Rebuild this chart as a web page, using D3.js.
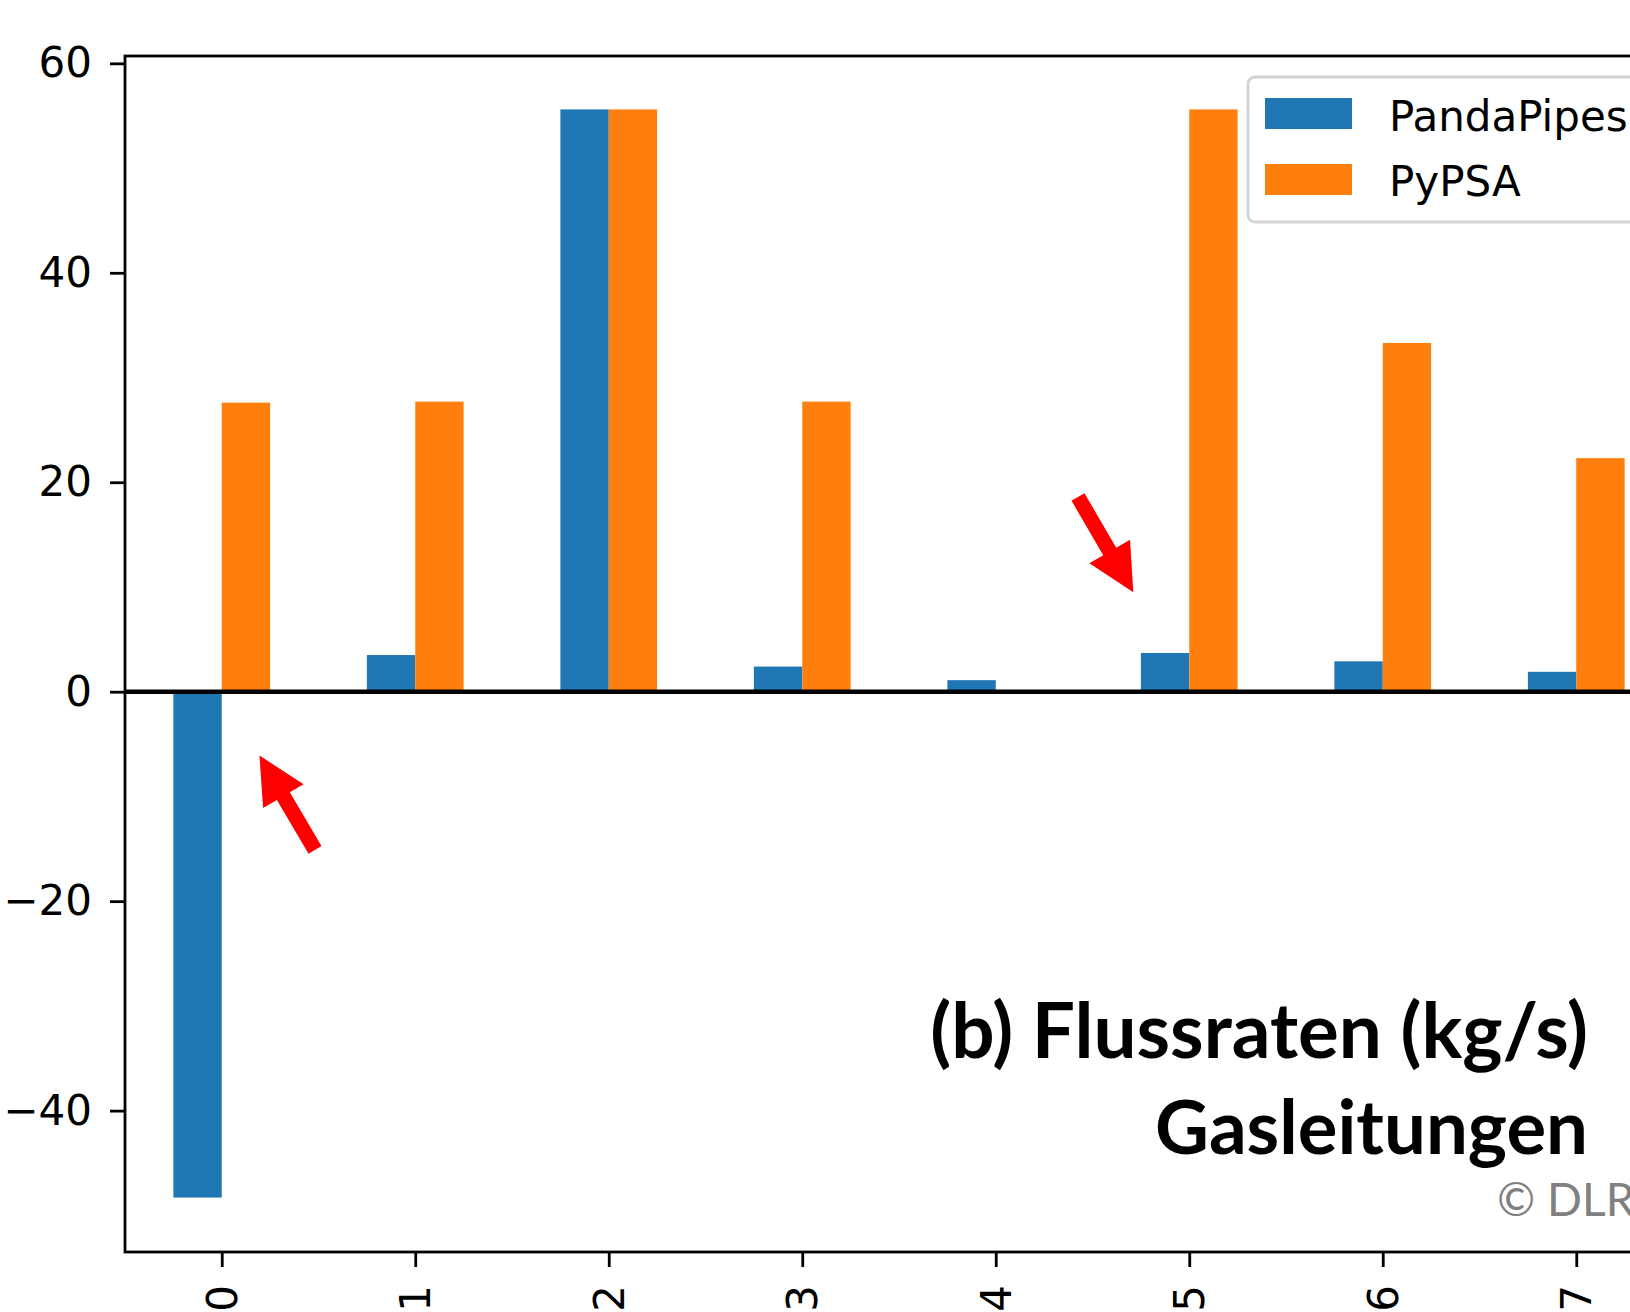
<!DOCTYPE html>
<html>
<head>
<meta charset="utf-8">
<script src="https://cdnjs.cloudflare.com/ajax/libs/d3/7.8.5/d3.min.js"></script>
<style>
  html, body { margin: 0; padding: 0; background: white; overflow: hidden; }
  .container { width: 1630px; height: 1312px; }
</style>
</head>
<body>
<div class="container"></div>
<script>
// categories and the two series (kg/s)
var categories = ["0", "1", "2", "3", "4", "5", "6", "7"];
var pandapipes = [-48.3, 3.5, 55.6, 2.4, 1.1, 3.7, 2.9, 1.9];
var pypsa = [27.6, 27.7, 55.6, 27.7, 0, 55.6, 33.3, 22.3];
var seriesNames = ["PandaPipes", "PyPSA"];
var seriesColors = ["#1f77b4", "#ff7f0e"];
var yTicks = [-40, -20, 0, 20, 40, 60];

// red arrows, in data coordinates (category position, value)
var arrowTails = [[4.425, 18.6], [0.482, -15.1]];
var arrowTips = [[4.711, 9.5], [0.195, -6.1]];

var titleLines = ["(b) Flussraten (kg/s)", "Gasleitungen"];

var W = 1630, H = 1312;
var axLeft = 125, axTop = 56, axBottom = 1252;
var unit = 193.5;   // px per category

function makeStage(w, h) {
    var stage = d3.select(".container")
      .append("svg")
      .attr("width", w)
      .attr("height", h)
      .style("display", "block")
      .style("background-color", "white");
    return stage;
}

var stage = makeStage(W, H);

var x = d3.scaleLinear()
    .domain([-0.5, categories.length - 0.5])
    .range([axLeft, axLeft + unit * categories.length]);

var y = d3.scaleLinear()
    .domain([-53.5, 60.7])
    .range([axBottom, axTop]);

var barW = x(0.25) - x(0);

//bars, blue left of tick, orange right of tick
function drawBars(values, offset, color) {
    stage.append("g").selectAll("rect")
      .data(values)
      .join("rect")
      .attr("x", function(d, i) { return x(i + offset); })
      .attr("y", function(d) { return y(Math.max(0, d)); })
      .attr("width", barW)
      .attr("height", function(d) { return Math.abs(y(d) - y(0)); })
      .attr("fill", color);
}
drawBars(pandapipes, -0.25, seriesColors[0]);
drawBars(pypsa, 0, seriesColors[1]);

// zero line
stage.append("line")
  .attr("x1", x(-0.5)).attr("x2", x(categories.length - 0.5))
  .attr("y1", y(0)).attr("y2", y(0))
  .attr("stroke", "black")
  .attr("stroke-width", 4.5);

// y axis
var yAxis = d3.axisLeft(y)
    .tickValues(yTicks)
    .tickSize(15)
    .tickPadding(18)
    .tickFormat(function(d) { return d < 0 ? "\u2212" + Math.abs(d) : d; });
var gy = stage.append("g")
  .attr("transform", "translate(" + axLeft + ",0)")
  .call(yAxis);
gy.select(".domain").remove();
gy.selectAll("line").attr("stroke", "black").attr("stroke-width", 2.8);
gy.selectAll("text")
  .attr("font-family", "DejaVu Sans")
  .attr("font-size", 42)
  .attr("fill", "black");

// x axis
var xAxis = d3.axisBottom(x)
    .tickValues(d3.range(categories.length))
    .tickSize(15)
    .tickFormat(function(d) { return categories[d]; });
var gx = stage.append("g")
  .attr("transform", "translate(0," + axBottom + ")")
  .call(xAxis);
gx.select(".domain").remove();
gx.selectAll("line").attr("stroke", "black").attr("stroke-width", 2.8);
gx.selectAll("text")
  .attr("font-family", "DejaVu Sans")
  .attr("font-size", 42)
  .attr("fill", "black")
  .attr("text-anchor", "end")
  .attr("y", 0)
  .attr("dy", "0.35em")
  .attr("transform", "translate(0,33) rotate(-90)");

// spines
var xr = x(categories.length - 0.5);
stage.append("rect")
  .attr("x", axLeft).attr("y", axTop)
  .attr("width", xr - axLeft).attr("height", axBottom - axTop)
  .attr("fill", "none")
  .attr("stroke", "black")
  .attr("stroke-width", 2.8);

// legend
var lg = stage.append("g").attr("transform", "translate(1248,77)");
lg.append("rect")
  .attr("x", 0).attr("y", 0)
  .attr("width", 480).attr("height", 145)
  .attr("rx", 7)
  .attr("fill", "white")
  .attr("stroke", "#d3d3d3")
  .attr("stroke-width", 2.8);
seriesNames.forEach(function(name, i) {
    lg.append("rect")
      .attr("x", 17).attr("y", 21 + i * 66)
      .attr("width", 87).attr("height", 31)
      .attr("fill", seriesColors[i]);
    lg.append("text")
      .text(name)
      .attr("x", 141).attr("y", 54 + i * 65)
      .attr("font-family", "DejaVu Sans")
      .attr("font-size", 42)
      .attr("fill", "black");
});

// red arrows
function drawArrow(tail, tip) {
    var x0 = x(tail[0]), y0 = y(tail[1]);
    var x1 = x(tip[0]), y1 = y(tip[1]);
    var dx = x1 - x0, dy = y1 - y0;
    var len = Math.sqrt(dx * dx + dy * dy);
    var ux = dx / len, uy = dy / len;
    var nx = -uy, ny = ux;
    var sw = 7.5, hw = 23.5, hl = 47;
    var bx = x1 - ux * hl, by = y1 - uy * hl;
    var pts = [
        [x0 + nx * sw, y0 + ny * sw],
        [bx + nx * sw, by + ny * sw],
        [bx + nx * hw, by + ny * hw],
        [x1, y1],
        [bx - nx * hw, by - ny * hw],
        [bx - nx * sw, by - ny * sw],
        [x0 - nx * sw, y0 - ny * sw]
    ];
    stage.append("polygon")
      .attr("points", pts.map(function(p) { return p.join(","); }).join(" "))
      .attr("fill", "#ff0000");
}
for (var a = 0; a < arrowTails.length; a++) {
    drawArrow(arrowTails[a], arrowTips[a]);
}

// title text, fitted to the width it has in the picture
function drawTitle(text, xr, yb, target) {
    var t = stage.append("text").text(text)
      .attr("x", xr).attr("y", yb)
      .attr("text-anchor", "end")
      .attr("font-family", "Lato")
      .attr("font-weight", "bold")
      .attr("font-size", 70)
      .attr("fill", "black");
    var w = t.node().getComputedTextLength();
    t.attr("font-size", 70 * target / w);
}
drawTitle(titleLines[0], 1588, 1058, 658);
drawTitle(titleLines[1], 1588, 1154, 433);

stage.append("text").text("\u00a9 DLR")
  .attr("x", 1497).attr("y", 1216)
  .attr("font-family", "Lato")
  .attr("font-size", 46)
  .attr("fill", "#808080");
</script>
</body>
</html>
